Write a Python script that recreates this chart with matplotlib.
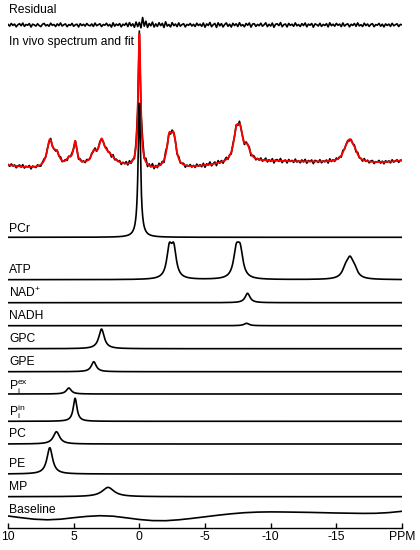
import numpy as np
import matplotlib
matplotlib.use("Agg")
import matplotlib.pyplot as plt
from matplotlib.ticker import FixedLocator

plt.rcParams['font.family'] = ['Liberation Sans', 'DejaVu Sans']
plt.rcParams['mathtext.fontset'] = 'custom'
plt.rcParams['mathtext.rm'] = 'Liberation Sans'
plt.rcParams['mathtext.it'] = 'Liberation Sans:italic'

# ---------------- data (peak parameters) ----------------
# heights in pixel-like units above each trace's own zero line
pcr_ppm = [0.0]
pcr_height = [134.0]
pcr_fwhm = [0.22]

atp_ppm = [-2.28, -2.62, -7.38, -7.68, -15.70, -16.03, -16.36]
atp_height = [28.0, 28.0, 25.5, 25.5, 8.2, 16.4, 8.2]
atp_fwhm = [0.46, 0.46, 0.50, 0.50, 0.58, 0.58, 0.58]

nadp_ppm = [-8.24]
nadp_height = [9.4]
nadp_fwhm = [0.45]

nadh_ppm = [-8.16]
nadh_height = [2.4]
nadh_fwhm = [0.45]

gpc_ppm = [2.88]
gpc_height = [19.7]
gpc_fwhm = [0.50]

gpe_ppm = [3.47]
gpe_height = [10.0]
gpe_fwhm = [0.45]

piex_ppm = [5.37]
piex_height = [6.0]
piex_fwhm = [0.45]

piin_ppm = [4.89]
piin_height = [23.0]
piin_fwhm = [0.34]

pc_ppm = [6.31]
pc_height = [12.3]
pc_fwhm = [0.58]

pe_ppm = [6.82]
pe_height = [26.3]
pe_fwhm = [0.52]

mp_ppm = [2.38]
mp_height = [9.3]
mp_fwhm = [1.1]

# baseline read at every 1 ppm from 10 to -20
baseline_ppm = list(range(10, -21, -1))
baseline_vals = [5.0, 3.3, 1.8, 1.2, 1.8, 3.3, 4.6, 5.3, 4.8, 3.2, 1.5, 0.4, 0.3,
                 1.2, 2.6, 4.2, 5.8, 7.2, 8.3, 8.9, 9.1, 9.0, 8.8, 8.6, 8.3, 8.0,
                 7.8, 7.6, 7.7, 8.4, 9.7]

# residual (data - fit), 0.125 ppm steps from 10 to -20
residual = [
    0.6, -1.1, 1.5, -0.4, 0.9, -1.8, 0.2, 1.3, -0.7, 1.9, -1.4, 0.5, -0.2, 1.4, -2.0, 0.8, 0.1, -1.1, 1.2, -0.5,
    -1.6, 0.7, 1.6, -0.8, 0.3, -1.2, 1.8, -0.3, 0.5, -1.5, 1.1, -0.6, 2.0, -1.0, 0.2, 1.1, -1.7, 0.4, -0.4, 1.6,
    -1.3, 0.2, 0.8, -1.9, 1.3, -0.5, 0.7, -1.1, 1.5, -0.2, -0.8, 1.0, -1.4, 1.9, -0.7, 0.3, 1.2, -1.6, 0.5, -0.2,
    1.7, -0.9, 0.6, -2.1, 2.2, -1.2, 0.9, -0.4, 1.4, -1.8, 0.8, -0.3, 1.9, -1.5, 2.4, -0.9, 1.2, -2.3, 3.0, -1.6,
    2.6, -2.8, 7.5, -1.2, 3.8, -2.4, 1.5, -0.8, 2.9, -2.0, 1.1, -1.4, 2.3, -0.6, 1.6, -2.5, 3.2, -1.1, 0.5, -1.9,
    2.4, -0.7, 1.0, -1.6, 2.1, -1.2, 0.4, 1.3, -1.9, 0.6, -0.3, 1.5, -1.0, 0.7, -1.5, 1.8, -0.5, 0.9, -1.3, 2.0,
    -2.2, 1.1, -0.4, 2.5, -1.7, 0.3, 1.6, -2.4, 2.2, -0.8, 1.4, -1.9, 0.5, 2.1, -1.3, 0.8, -2.0, 1.7, -0.6, 1.2,
    -1.5, 2.3, -0.9, 0.4, -1.8, 1.5, -0.3, 2.0, -2.1, 0.9, 1.3, -1.4, 0.6, -0.7, 1.8, -1.2, 0.2, 2.2, -1.6, 0.7,
    -1.0, 1.9, -2.3, 0.8, 1.2, -0.6, 2.4, -1.7, 0.3, 1.0, -1.9, 1.6, -0.4, 0.8, -1.3, 2.1, -0.8, 0.5, -1.5, 1.4,
    -0.6, 2.0, -1.8, 0.9, -0.2, 1.5, -2.2, 1.1, 0.4, -1.0, 1.7, -1.4, 0.6, -0.5, 1.3, -1.9, 2.2, -0.7, 0.8, -1.2,
    1.6, -0.3, 0.9, -1.6, 2.0, -1.1, 0.5, 1.2, -1.8, 0.7, -0.4, 1.5, -1.3, 2.1, -0.9, 0.3, -1.5, 1.8, -0.6, 1.0,
    -1.4, 0.6, 1.3, -1.7, 0.4, -0.2, 1.6, -1.2, 0.8, -1.9, 1.1, -0.5, 0.9, -1.3, 1.7, -0.8, 0.3, 1.2, -1.5, 0.6,
    0.2]

tick_values = [10, 5, 0, -5, -10, -15, -20]
tick_labels = ['10', '5', '0', '-5', '-10', '-15', 'PPM']

# ---------------- layout ----------------
W, H, DPI = 420, 550, 100
AX_Y0 = 528.0  # pixel row of the ppm axis
def row(py):
    return AX_Y0 - py

components = [
    # (label, ppm, height, fwhm, trace zero, label baseline)
    ('PCr', pcr_ppm, pcr_height, pcr_fwhm, row(237.3), row(231.7)),
    ('ATP', atp_ppm, atp_height, atp_fwhm, row(279.7), row(273.3)),
    ('NAD$^{+}$', nadp_ppm, nadp_height, nadp_fwhm, row(302.7), row(296.7)),
    ('NADH', nadh_ppm, nadh_height, nadh_fwhm, row(325.7), row(319.3)),
    ('GPC', gpc_ppm, gpc_height, gpc_fwhm, row(348.7), row(342.3)),
    ('GPE', gpe_ppm, gpe_height, gpe_fwhm, row(371.7), row(365.0)),
    (r'P$_\mathrm{i}^\mathrm{ex}$', piex_ppm, piex_height, piex_fwhm, row(394.0), row(390.5)),
    (r'P$_\mathrm{i}^\mathrm{in}$', piin_ppm, piin_height, piin_fwhm, row(421.3), row(415.5)),
    ('PC', pc_ppm, pc_height, pc_fwhm, row(444.0), row(436.7)),
    ('PE', pe_ppm, pe_height, pe_fwhm, row(474.0), row(467.0)),
    ('MP', mp_ppm, mp_height, mp_fwhm, row(496.7), row(490.5)),
]
baseline_zero = row(521.0)
baseline_label_y = row(513.0)
spec_zero = row(170.5)
spec_label_y = row(45.0)
resid_zero = row(25.0)
resid_label_y = row(13.3)

FS = 8.7
LW = 1.2

def lorentz(x, pos, hgt, fw):
    y = np.zeros_like(x)
    for p, h, f in zip(pos, hgt, fw):
        y += h / (1.0 + ((x - p) / (f / 2.0)) ** 2)
    return y

fig = plt.figure(figsize=(W / DPI, H / DPI), dpi=DPI)
ax = fig.add_axes([8 / W, (H - AX_Y0) / H, (402 - 8) / W, AX_Y0 / H])
ax.set_xlim(10, -20)
ax.set_ylim(0, AX_Y0)
for s in ['top', 'right', 'left']:
    ax.spines[s].set_visible(False)
ax.spines['bottom'].set_linewidth(1.0)
ax.yaxis.set_visible(False)
ax.patch.set_alpha(0)

x = np.linspace(10, -20, 6001)
x_res = np.linspace(10, -20, len(residual))
res = np.array(residual)

# fit and data
fit_fine = np.interp(x[::-1], baseline_ppm[::-1], baseline_vals[::-1])[::-1]
fit_res = np.interp(x_res[::-1], baseline_ppm[::-1], baseline_vals[::-1])[::-1]
for c in components:
    fit_fine = fit_fine + lorentz(x, c[1], c[2], c[3])
    fit_res = fit_res + lorentz(x_res, c[1], c[2], c[3])

ax.plot(x_res, spec_zero + fit_res + res, color='black', lw=LW, zorder=2)
ax.plot(x, spec_zero + fit_fine, color='#ff0000', lw=1.3, zorder=3)
ax.text(9.92, spec_label_y, 'In vivo spectrum and fit', fontsize=FS, ha='left', va='baseline', zorder=5)

# residual
ax.plot(x_res, resid_zero + res, color='black', lw=LW, zorder=2)
ax.text(9.92, resid_label_y, 'Residual', fontsize=FS, ha='left', va='baseline')

# components
for label, pos, hgt, fw, zero, ly in components:
    ax.plot(x, zero + lorentz(x, pos, hgt, fw), color='black', lw=LW, zorder=4)
    ax.text(9.92, ly, label, fontsize=FS, ha='left', va='baseline')

# baseline
ax.plot(baseline_ppm, baseline_zero + np.array(baseline_vals), color='black', lw=LW)
ax.text(9.92, baseline_label_y, 'Baseline', fontsize=FS, ha='left', va='baseline')

ax.xaxis.set_major_locator(FixedLocator(tick_values))
ax.set_xticklabels(tick_labels)
ax.tick_params(axis='x', direction='in', length=3.5, width=1.0, pad=2.5, labelsize=FS)

fig.savefig('out.png', dpi=DPI)
